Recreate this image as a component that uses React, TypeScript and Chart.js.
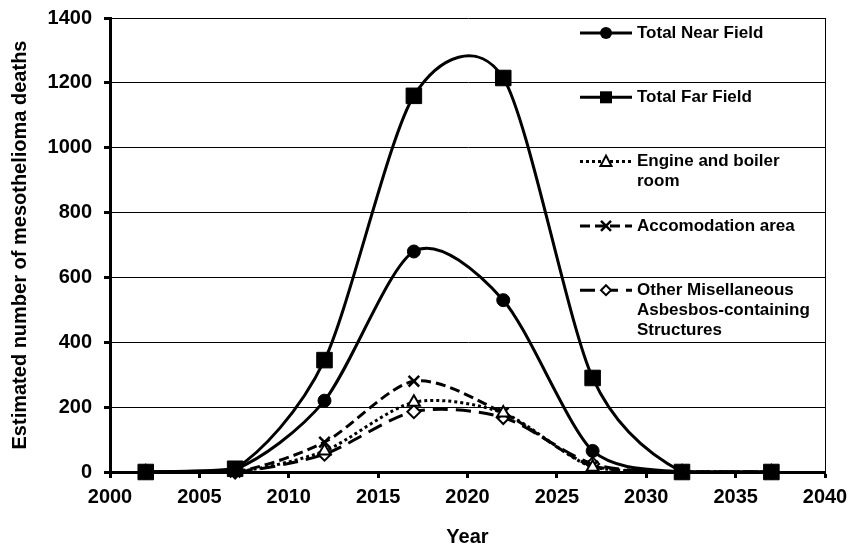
import { useEffect, useRef } from 'react';
import { Chart, registerables } from 'chart.js';

Chart.register(...registerables);

const years = [2002, 2007, 2012, 2017, 2022, 2027, 2032, 2037];
const nearField = [0, 8, 220, 680, 530, 65, 0, 0];
const farField = [0, 10, 345, 1160, 1215, 290, 0, 0];
const engineRoom = [0, 0, 65, 215, 182, 15, 0, 0];
const accomodation = [0, 0, 92, 280, 182, 18, 0, 0];
const otherMisc = [0, 0, 55, 186, 168, 25, 0, 0];

const seriesNames = ['Total Near Field', 'Total Far Field', 'Engine and boiler room', 'Accomodation area', 'Other Misellaneous Asbesbos-containing Structures'];
const legendLines = [
  ['Total Near Field'],
  ['Total Far Field'],
  ['Engine and boiler', 'room'],
  ['Accomodation area'],
  ['Other Misellaneous', 'Asbesbos-containing', 'Structures'],
];
const xTicks = [2000, 2005, 2010, 2015, 2020, 2025, 2030, 2035, 2040];

const FONT = "'Liberation Sans', Arial, sans-serif";
const SMOOTH = 0.14;

type Style = { point: string; dash: number[]; fill: string };
const styles: Style[] = [
  { point: 'circle', dash: [], fill: '#000' },
  { point: 'rect', dash: [], fill: '#000' },
  { point: 'triangle', dash: [3, 3], fill: '#fff' },
  { point: 'crossRot', dash: [10, 5], fill: '#000' },
  { point: 'rectRot', dash: [15, 8], fill: '#fff' },
];

function drawMarker(ctx: CanvasRenderingContext2D, kind: string, x: number, y: number) {
  ctx.save();
  ctx.setLineDash([]);
  ctx.strokeStyle = '#000';
  ctx.fillStyle = '#000';
  if (kind === 'circle') {
    ctx.beginPath();
    ctx.arc(x, y, 6, 0, Math.PI * 2);
    ctx.fill();
  } else if (kind === 'rect') {
    ctx.fillRect(x - 6, y - 6, 12, 12);
  } else if (kind === 'triangle') {
    ctx.fillStyle = '#fff';
    ctx.lineWidth = 2;
    ctx.beginPath();
    ctx.moveTo(x, y - 6);
    ctx.lineTo(x - 5.5, y + 4.5);
    ctx.lineTo(x + 5.5, y + 4.5);
    ctx.closePath();
    ctx.fill();
    ctx.stroke();
  } else if (kind === 'crossRot') {
    ctx.lineWidth = 2.5;
    ctx.beginPath();
    ctx.moveTo(x - 5, y - 5);
    ctx.lineTo(x + 5, y + 5);
    ctx.moveTo(x + 5, y - 5);
    ctx.lineTo(x - 5, y + 5);
    ctx.stroke();
  } else if (kind === 'rectRot') {
    ctx.fillStyle = '#fff';
    ctx.lineWidth = 2;
    ctx.beginPath();
    ctx.moveTo(x, y - 5);
    ctx.lineTo(x + 5, y);
    ctx.lineTo(x, y + 5);
    ctx.lineTo(x - 5, y);
    ctx.closePath();
    ctx.fill();
    ctx.stroke();
  }
  ctx.restore();
}

// Excel-like smoothing: control points along (next - prev) scaled by SMOOTH
const smoothPlugin = {
  id: 'excelSmooth',
  beforeDatasetsDraw(chart: any) {
    const area = chart.chartArea;
    const clampY = (v: number) => Math.min(Math.max(v, area.top), area.bottom);
    chart.data.datasets.forEach((_ds: any, i: number) => {
      const meta = chart.getDatasetMeta(i);
      const line: any = meta.dataset;
      const pts: any[] = meta.data;
      if (!line || !pts.length) return;
      if (typeof line.updateControlPoints === 'function') line.updateControlPoints(area, 'x');
      for (let j = 0; j < pts.length; j++) {
        const p = pts[j];
        const prev = pts[j - 1] || p;
        const next = pts[j + 1] || p;
        const dx = (next.x - prev.x) * SMOOTH;
        const dy = (next.y - prev.y) * SMOOTH;
        p.cp1x = p.x - dx;
        p.cp1y = clampY(p.y - dy);
        p.cp2x = p.x + dx;
        p.cp2y = clampY(p.y + dy);
      }
      line._pointsUpdated = true;
      line._path = undefined;
    });
  },
};

const decorPlugin = {
  id: 'decor',
  afterDraw(chart: any) {
    const { ctx, chartArea: a } = chart;
    ctx.save();
    ctx.strokeStyle = '#000';
    ctx.lineWidth = 1;
    ctx.beginPath();
    const rx = Math.round(a.right) + 0.5;
    ctx.moveTo(rx, a.top);
    ctx.lineTo(rx, a.bottom);
    ctx.stroke();

    const x0 = a.right - 245;
    const x1 = a.right - 193;
    const tx = a.right - 188;
    ctx.font = `bold 17px ${FONT}`;
    ctx.textBaseline = 'middle';
    ctx.textAlign = 'left';
    legendLines.forEach((lines, i) => {
      const y = a.top + 15 + i * 64.3;
      const st = styles[i];
      ctx.save();
      ctx.strokeStyle = '#000';
      ctx.lineWidth = 3;
      ctx.setLineDash(st.dash);
      ctx.beginPath();
      ctx.moveTo(x0, y);
      ctx.lineTo(x1, y);
      ctx.stroke();
      ctx.restore();
      drawMarker(ctx, st.point, (x0 + x1) / 2, y);
      ctx.fillStyle = '#000';
      lines.forEach((t, j) => ctx.fillText(t, tx, y + j * 20));
    });
    ctx.restore();
  },
};

export default function App() {
  const ref = useRef<HTMLCanvasElement | null>(null);

  useEffect(() => {
    if (!ref.current) return;
    const series = [nearField, farField, engineRoom, accomodation, otherMisc];
    const radii = [6.5, 11, 7, 7.5, 6.5];
    const chart = new Chart(ref.current, {
      type: 'line',
      data: {
        datasets: series.map((vals, i) => ({
          label: seriesNames[i],
          data: years.map((yr, k) => ({ x: yr, y: vals[k] })),
          borderColor: '#000',
          borderWidth: 3,
          borderDash: styles[i].dash,
          tension: 0.4,
          fill: false,
          pointStyle: styles[i].point as any,
          pointRadius: radii[i],
          pointBackgroundColor: styles[i].fill,
          pointBorderColor: '#000',
          pointBorderWidth: i === 3 ? 2.5 : i >= 2 ? 2 : 1,
          clip: false as any,
        })),
      },
      options: {
        animation: false,
        responsive: false,
        devicePixelRatio: 1,
        layout: { padding: { top: 18, right: 26, left: 0, bottom: 0 } },
        plugins: {
          legend: { display: false },
          tooltip: { enabled: false },
        },
        scales: {
          x: {
            type: 'linear',
            min: 2000,
            max: 2040,
            afterFit: (s: any) => { s.height = 79; s.paddingLeft = 0; s.paddingRight = 0; },
            afterBuildTicks: (s: any) => { s.ticks = xTicks.map((v) => ({ value: v })); },
            ticks: {
              stepSize: 5,
              color: '#000',
              padding: 7,
              maxRotation: 0,
              font: { family: FONT, size: 20, weight: 'bold' },
              callback: (v: any) => String(v),
            },
            grid: { drawOnChartArea: false, tickLength: 6, tickWidth: 3, tickColor: '#000' },
            border: { display: true, width: 3, color: '#000' },
            title: {
              display: true,
              text: 'Year',
              color: '#000',
              font: { family: FONT, size: 20, weight: 'bold' },
              padding: { top: 0, bottom: 2 },
            },
          },
          y: {
            min: 0,
            max: 1400,
            afterFit: (s: any) => { s.width = 110; s.paddingTop = 0; s.paddingBottom = 0; },
            ticks: {
              stepSize: 200,
              color: '#000',
              padding: 12,
              font: { family: FONT, size: 20, weight: 'bold' },
              callback: (v: any) => String(v),
            },
            grid: { color: '#000', lineWidth: 1, tickLength: 6, tickWidth: 3, tickColor: '#000' },
            border: { display: true, width: 3, color: '#000' },
            title: {
              display: true,
              text: 'Estimated number of mesothelioma deaths',
              color: '#000',
              font: { family: FONT, size: 20, weight: 'bold' },
              padding: { top: 8, bottom: 0 },
            },
          },
        },
      },
      plugins: [smoothPlugin, decorPlugin],
    });
    return () => chart.destroy();
  }, []);

  return (
    <div style={{ position: 'absolute', left: 0, top: 0, width: 851, height: 551, background: '#fff' }}>
      <canvas ref={ref} width={851} height={551} style={{ display: 'block' }} />
    </div>
  );
}
